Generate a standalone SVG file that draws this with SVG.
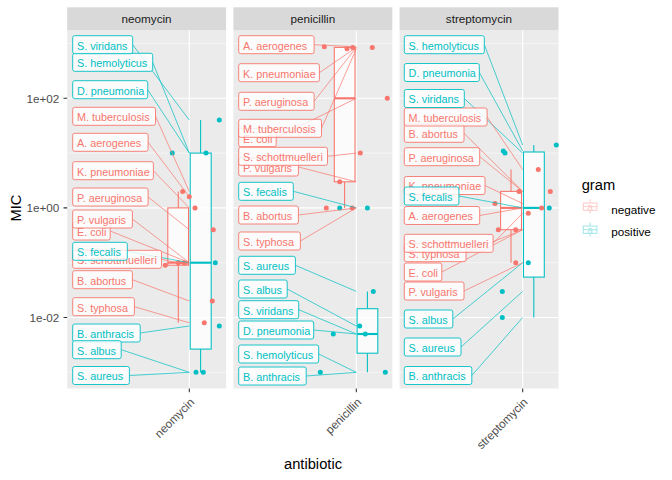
<svg xmlns="http://www.w3.org/2000/svg" width="672" height="480" viewBox="0 0 672 480">
<style>
text{font-family:"Liberation Sans",Arial,Helvetica,sans-serif}
.bg{fill:#EBEBEB}
.strip{fill:#D9D9D9}
.st{font-size:11.7px;fill:#1A1A1A;text-anchor:middle}
.gmaj{stroke:#FFFFFF;stroke-width:1.07;fill:none}
.gmin{stroke:#FFFFFF;stroke-width:0.53;fill:none}
.tick{stroke:#333333;stroke-width:1.07}
.at{font-size:11.7px;fill:#4D4D4D}
.ttl{font-size:14.7px;fill:#000000}
.lg{font-size:11.7px;fill:#000000}
.bxn{fill:#FFFFFF;fill-opacity:0.8;stroke:#F8766D;stroke-width:1.07}
.bxp{fill:#FFFFFF;fill-opacity:0.8;stroke:#00BFC4;stroke-width:1.07}
.wn{stroke:#F8766D;stroke-width:1.07}
.wp{stroke:#00BFC4;stroke-width:1.07}
.mn{stroke:#F8766D;stroke-width:2.13}
.mp{stroke:#00BFC4;stroke-width:2.13}
.pn{fill:#F8766D}
.pp{fill:#00BFC4}
circle{r:2.5px}
.sn{stroke:#F8766D;stroke-width:0.71;fill:none}
.sp{stroke:#00BFC4;stroke-width:0.71;fill:none}
.ln rect{fill:#FFFFFF;fill-opacity:0.8;stroke:#F8766D;stroke-width:0.9}
.ln text{fill:#F8766D;font-size:10.8px}
.lp rect{fill:#FFFFFF;fill-opacity:0.8;stroke:#00BFC4;stroke-width:0.9}
.lp text{fill:#00BFC4;font-size:10.8px}
</style>

<!-- panel backgrounds and grids -->
<g id="panels">
  <rect class="bg" x="67.2" y="30.3" width="158.9" height="358.2"/>
  <rect class="bg" x="233.4" y="30.3" width="158.9" height="358.2"/>
  <rect class="bg" x="399.6" y="30.3" width="158.9" height="358.2"/>
  <g class="gmin">
    <path d="M67.2 43.5H226.1M67.2 153.1H226.1M67.2 262.7H226.1M67.2 372.3H226.1"/>
    <path d="M233.4 43.5H392.3M233.4 153.1H392.3M233.4 262.7H392.3M233.4 372.3H392.3"/>
    <path d="M399.6 43.5H558.5M399.6 153.1H558.5M399.6 262.7H558.5M399.6 372.3H558.5"/>
  </g>
  <g class="gmaj">
    <path d="M67.2 98.3H226.1M67.2 207.9H226.1M67.2 317.5H226.1M189.3 30.3V388.5"/>
    <path d="M233.4 98.3H392.3M233.4 207.9H392.3M233.4 317.5H392.3M356.3 30.3V388.5"/>
    <path d="M399.6 98.3H558.5M399.6 207.9H558.5M399.6 317.5H558.5M522.7 30.3V388.5"/>
  </g>
  <rect class="strip" x="67.2" y="7.3" width="158.9" height="23"/>
  <rect class="strip" x="233.4" y="7.3" width="158.9" height="23"/>
  <rect class="strip" x="399.6" y="7.3" width="158.9" height="23"/>
  <text class="st" x="146.6" y="22.8">neomycin</text>
  <text class="st" x="312.8" y="22.8">penicillin</text>
  <text class="st" x="479" y="22.8">streptomycin</text>
</g>

<!-- boxplots -->
<g id="boxplots">
  <!-- neomycin -->
  <line class="wn" x1="178.3" y1="191.4" x2="178.3" y2="207.9"/>
  <line class="wn" x1="178.3" y1="265.2" x2="178.3" y2="322.8"/>
  <rect class="bxn" x="167.8" y="207.9" width="20.7" height="57.3"/>
  <line class="mn" x1="167.8" y1="262.7" x2="188.5" y2="262.7"/>
  <line class="wp" x1="200.6" y1="120.1" x2="200.6" y2="153.1"/>
  <line class="wp" x1="200.6" y1="349.1" x2="200.6" y2="372.3"/>
  <rect class="bxp" x="190.2" y="153.1" width="21" height="196"/>
  <line class="mp" x1="190.2" y1="262.7" x2="211.2" y2="262.7"/>
  <!-- penicillin -->
  <line class="wn" x1="344.6" y1="46.8" x2="344.6" y2="47.4"/>
  <line class="wn" x1="344.6" y1="181.8" x2="344.6" y2="207.9"/>
  <rect class="bxn" x="334.3" y="47.4" width="20.7" height="134.4"/>
  <line class="mn" x1="334.3" y1="98.3" x2="355" y2="98.3"/>
  <line class="wp" x1="367.4" y1="291.4" x2="367.4" y2="308.7"/>
  <line class="wp" x1="367.4" y1="353.2" x2="367.4" y2="372.3"/>
  <rect class="bxp" x="357.1" y="308.7" width="20.7" height="44.5"/>
  <line class="mp" x1="357.1" y1="334" x2="377.8" y2="334"/>
  <circle class="pp" cx="367.4" cy="207.9" r="2.5"/>
  <!-- streptomycin -->
  <line class="wn" x1="511" y1="169.6" x2="511" y2="191.4"/>
  <line class="wn" x1="511" y1="229.7" x2="511" y2="262.7"/>
  <rect class="bxn" x="500.6" y="191.4" width="20.9" height="38.3"/>
  <line class="mn" x1="500.6" y1="207.9" x2="521.5" y2="207.9"/>
  <line class="wp" x1="533.8" y1="145.1" x2="533.8" y2="152"/>
  <line class="wp" x1="533.8" y1="277.1" x2="533.8" y2="317.5"/>
  <rect class="bxp" x="523.5" y="152" width="20.8" height="125.1"/>
  <line class="mp" x1="523.5" y1="207.9" x2="544.3" y2="207.9"/>
</g>

<!-- jittered points -->
<g id="points">
  <circle class="pp" cx="219.3" cy="120.1" r="2.5"/>
  <circle class="pp" cx="172.3" cy="153.1" r="2.5"/>
  <circle class="pp" cx="206" cy="153.1" r="2.5"/>
  <circle class="pn" cx="182.7" cy="191.4" r="2.5"/>
  <circle class="pn" cx="189.3" cy="196.7" r="2.5"/>
  <circle class="pn" cx="195" cy="207.9" r="2.5"/>
  <circle class="pn" cx="213.3" cy="229.7" r="2.5"/>
  <circle class="pp" cx="215.3" cy="262.7" r="2.5"/>
  <circle class="pn" cx="165.3" cy="265.2" r="2.5"/>
  <circle class="pn" cx="178.3" cy="262.7" r="2.5"/>
  <circle class="pn" cx="184" cy="262.7" r="2.5"/>
  <circle class="pn" cx="212.3" cy="301" r="2.5"/>
  <circle class="pn" cx="204.3" cy="322.8" r="2.5"/>
  <circle class="pp" cx="219.3" cy="326" r="2.5"/>
  <circle class="pp" cx="196" cy="372.3" r="2.5"/>
  <circle class="pp" cx="203.3" cy="372.3" r="2.5"/>

  <circle class="pn" cx="324.3" cy="46.8" r="2.5"/>
  <circle class="pn" cx="347" cy="48.8" r="2.5"/>
  <circle class="pn" cx="352.7" cy="47.4" r="2.5"/>
  <circle class="pn" cx="372.3" cy="47.4" r="2.5"/>
  <circle class="pn" cx="387.3" cy="98.3" r="2.5"/>
  <circle class="pn" cx="360.3" cy="153.1" r="2.5"/>
  <circle class="pn" cx="339.7" cy="181.8" r="2.5"/>
  <circle class="pn" cx="326.3" cy="207.9" r="2.5"/>
  <circle class="pn" cx="352.3" cy="207.9" r="2.5"/>
  <circle class="pp" cx="339.7" cy="207.9" r="2.5"/>
  <circle class="pp" cx="373.3" cy="291.4" r="2.5"/>
  <circle class="pp" cx="359.7" cy="326" r="2.5"/>
  <circle class="pp" cx="333.3" cy="334" r="2.5"/>
  <circle class="pp" cx="365.3" cy="334" r="2.5"/>
  <circle class="pp" cx="320.3" cy="372.3" r="2.5"/>
  <circle class="pp" cx="385.3" cy="372.3" r="2.5"/>

  <circle class="pp" cx="556.3" cy="145.1" r="2.5"/>
  <circle class="pp" cx="503.3" cy="150.9" r="2.5"/>
  <circle class="pp" cx="505" cy="153.1" r="2.5"/>
  <circle class="pn" cx="538.3" cy="169.6" r="2.5"/>
  <circle class="pn" cx="550.3" cy="191.4" r="2.5"/>
  <circle class="pn" cx="519" cy="191.4" r="2.5"/>
  <circle class="pn" cx="495" cy="203.6" r="2.5"/>
  <circle class="pn" cx="541.7" cy="207.9" r="2.5"/>
  <circle class="pp" cx="549.3" cy="207.9" r="2.5"/>
  <circle class="pn" cx="528.3" cy="213.2" r="2.5"/>
  <circle class="pn" cx="498.3" cy="229.7" r="2.5"/>
  <circle class="pn" cx="515.7" cy="229.7" r="2.5"/>
  <circle class="pn" cx="515.7" cy="262.7" r="2.5"/>
  <circle class="pp" cx="528.3" cy="262.7" r="2.5"/>
  <circle class="pp" cx="502.3" cy="291.4" r="2.5"/>
  <circle class="pp" cx="502.3" cy="317.5" r="2.5"/>
</g>

<!-- label connectors -->
<g id="connectors">
  <g class="sp">
    <path d="M132.7 44.7L189.3 120.1M152.7 62.3L189.3 153.1M147.7 89.7L189.3 153.1M127.3 251.3L189.3 262.7M140.2 333L189.3 326M121.2 349.7L189.3 372.3M129.4 375.5L189.3 372.3"/>
    <path d="M293.3 191.3L356.3 207.9M295.4 265.3L356.3 291.4M287.2 289L356.3 326M298.7 309.7L356.3 334M313.7 330L356.3 334M318.7 354L356.3 372.3M306.2 376L356.3 372.3"/>
    <path d="M484.3 44.7L522.7 145.1M479.3 72.5L522.7 150.9M464.3 98.5L522.7 153.1M458.9 196L522.7 207.9M452.8 319L522.7 262.7M461 347L522.7 291.4M471.8 375.5L522.7 317.5"/>
  </g>
  <g class="sn">
    <path d="M155.5 116.3L189.3 191.4M148.1 142.3L189.3 196.7M153.4 170.7L189.3 207.9M148.1 197L189.3 229.7M132.4 219L189.3 262.7M110.2 231L189.3 262.7M161.5 259.3L189.3 265.2M132.4 279.7L189.3 301M134.4 306.7L189.3 322.8"/>
    <path d="M314.1 44.7L356.3 46.8M319.4 72.7L356.3 47.4M314.1 101.3L356.3 47.4M321.5 128.3L356.3 48.8M276.2 137.7L356.3 98.3M327.5 156.3L356.3 153.1M298.4 167L356.3 181.8M298.4 215L356.3 207.9M300.4 241L356.3 207.9"/>
    <path d="M487.1 117L522.7 169.6M464 133.3L522.7 191.4M479.7 156.7L522.7 191.4M485 185.5L522.7 203.6M479.7 215.5L522.7 207.9M493.1 243.3L522.7 213.2M466 252.7L522.7 229.7M441.8 272L522.7 229.7M464 291L522.7 262.7"/>
  </g>
</g>

<!-- labels: neomycin -->
<g id="neo-labels">
  <g id="neo-aerogenes" class="ln"><rect x="72.7" y="133.3" width="75.4" height="18" rx="2"/><text x="77" y="147.1">A. aerogenes</text></g>
  <g id="neo-abortus" class="ln"><rect x="72.7" y="270.7" width="59.7" height="18" rx="2"/><text x="77" y="284.5">B. abortus</text></g>
  <g id="neo-anthracis" class="lp"><rect x="72.7" y="324" width="67.5" height="18" rx="2"/><text x="77" y="337.8">B. anthracis</text></g>
  <g id="neo-dpneumonia" class="lp"><rect x="72.7" y="80.7" width="75" height="18" rx="2"/><text x="77" y="94.5">D. pneumonia</text></g>
  <g id="neo-coli" class="ln"><rect x="72.7" y="222" width="37.5" height="18" rx="2"/><text x="77" y="235.8">E. coli</text></g>
  <g id="neo-kpneumoniae" class="ln"><rect x="72.7" y="161.7" width="80.7" height="18" rx="2"/><text x="77" y="175.5">K. pneumoniae</text></g>
  <g id="neo-tuberculosis" class="ln"><rect x="72.7" y="107.3" width="82.8" height="18" rx="2"/><text x="77" y="121.1">M. tuberculosis</text></g>
  <g id="neo-vulgaris" class="ln"><rect x="72.7" y="210" width="59.7" height="18" rx="2"/><text x="77" y="223.8">P. vulgaris</text></g>
  <g id="neo-aeruginosa" class="ln"><rect x="72.7" y="188" width="75.4" height="18" rx="2"/><text x="77" y="201.8">P. aeruginosa</text></g>
  <g id="neo-typhosa" class="ln"><rect x="72.7" y="297.7" width="61.7" height="18" rx="2"/><text x="77" y="311.5">S. typhosa</text></g>
  <g id="neo-schottmuelleri" class="ln"><rect x="72.7" y="250.3" width="88.8" height="18" rx="2"/><text x="77" y="264.1">S. schottmuelleri</text></g>
  <g id="neo-albus" class="lp"><rect x="72.7" y="340.7" width="48.5" height="18" rx="2"/><text x="77" y="354.5">S. albus</text></g>
  <g id="neo-aureus" class="lp"><rect x="72.7" y="366.5" width="56.7" height="18" rx="2"/><text x="77" y="380.3">S. aureus</text></g>
  <g id="neo-fecalis" class="lp"><rect x="72.7" y="242.3" width="54.6" height="18" rx="2"/><text x="77" y="256.1">S. fecalis</text></g>
  <g id="neo-hemolyticus" class="lp"><rect x="72.7" y="53.3" width="80" height="18" rx="2"/><text x="77" y="67.1">S. hemolyticus</text></g>
  <g id="neo-viridans" class="lp"><rect x="72.7" y="35.7" width="60" height="18" rx="2"/><text x="77" y="49.5">S. viridans</text></g>
</g>

<!-- labels: penicillin -->
<g id="pen-labels">
  <g id="pen-aerogenes" class="ln"><rect x="238.7" y="35.7" width="75.4" height="18" rx="2"/><text x="243" y="49.5">A. aerogenes</text></g>
  <g id="pen-abortus" class="ln"><rect x="238.7" y="206" width="59.7" height="18" rx="2"/><text x="243" y="219.8">B. abortus</text></g>
  <g id="pen-anthracis" class="lp"><rect x="238.7" y="367" width="67.5" height="18" rx="2"/><text x="243" y="380.8">B. anthracis</text></g>
  <g id="pen-dpneumonia" class="lp"><rect x="238.7" y="321" width="75" height="18" rx="2"/><text x="243" y="334.8">D. pneumonia</text></g>
  <g id="pen-coli" class="ln"><rect x="238.7" y="128.7" width="37.5" height="18" rx="2"/><text x="243" y="142.5">E. coli</text></g>
  <g id="pen-kpneumoniae" class="ln"><rect x="238.7" y="63.7" width="80.7" height="18" rx="2"/><text x="243" y="77.5">K. pneumoniae</text></g>
  <g id="pen-tuberculosis" class="ln"><rect x="238.7" y="119.3" width="82.8" height="18" rx="2"/><text x="243" y="133.1">M. tuberculosis</text></g>
  <g id="pen-vulgaris" class="ln"><rect x="238.7" y="158" width="59.7" height="18" rx="2"/><text x="243" y="171.8">P. vulgaris</text></g>
  <g id="pen-aeruginosa" class="ln"><rect x="238.7" y="92.3" width="75.4" height="18" rx="2"/><text x="243" y="106.1">P. aeruginosa</text></g>
  <g id="pen-typhosa" class="ln"><rect x="238.7" y="232" width="61.7" height="18" rx="2"/><text x="243" y="245.8">S. typhosa</text></g>
  <g id="pen-schottmuelleri" class="ln"><rect x="238.7" y="147.3" width="88.8" height="18" rx="2"/><text x="243" y="161.1">S. schottmuelleri</text></g>
  <g id="pen-albus" class="lp"><rect x="238.7" y="280" width="48.5" height="18" rx="2"/><text x="243" y="293.8">S. albus</text></g>
  <g id="pen-aureus" class="lp"><rect x="238.7" y="256.3" width="56.7" height="18" rx="2"/><text x="243" y="270.1">S. aureus</text></g>
  <g id="pen-fecalis" class="lp"><rect x="238.7" y="182.3" width="54.6" height="18" rx="2"/><text x="243" y="196.1">S. fecalis</text></g>
  <g id="pen-hemolyticus" class="lp"><rect x="238.7" y="345" width="80" height="18" rx="2"/><text x="243" y="358.8">S. hemolyticus</text></g>
  <g id="pen-viridans" class="lp"><rect x="238.7" y="300.7" width="60" height="18" rx="2"/><text x="243" y="314.5">S. viridans</text></g>
</g>

<!-- labels: streptomycin -->
<g id="str-labels">
  <g id="str-aerogenes" class="ln"><rect x="404.3" y="206.5" width="75.4" height="18" rx="2"/><text x="408.6" y="220.3">A. aerogenes</text></g>
  <g id="str-abortus" class="ln"><rect x="404.3" y="124.3" width="59.7" height="18" rx="2"/><text x="408.6" y="138.1">B. abortus</text></g>
  <g id="str-anthracis" class="lp"><rect x="404.3" y="366.5" width="67.5" height="18" rx="2"/><text x="408.6" y="380.3">B. anthracis</text></g>
  <g id="str-dpneumonia" class="lp"><rect x="404.3" y="63.5" width="75" height="18" rx="2"/><text x="408.6" y="77.3">D. pneumonia</text></g>
  <g id="str-coli" class="ln"><rect x="404.3" y="263" width="37.5" height="18" rx="2"/><text x="408.6" y="276.8">E. coli</text></g>
  <g id="str-kpneumoniae" class="ln"><rect x="404.3" y="176.5" width="80.7" height="18" rx="2"/><text x="408.6" y="190.3">K. pneumoniae</text></g>
  <g id="str-tuberculosis" class="ln"><rect x="404.3" y="108" width="82.8" height="18" rx="2"/><text x="408.6" y="121.8">M. tuberculosis</text></g>
  <g id="str-vulgaris" class="ln"><rect x="404.3" y="282" width="59.7" height="18" rx="2"/><text x="408.6" y="295.8">P. vulgaris</text></g>
  <g id="str-aeruginosa" class="ln"><rect x="404.3" y="147.7" width="75.4" height="18" rx="2"/><text x="408.6" y="161.5">P. aeruginosa</text></g>
  <g id="str-typhosa" class="ln"><rect x="404.3" y="243.7" width="61.7" height="18" rx="2"/><text x="408.6" y="257.5">S. typhosa</text></g>
  <g id="str-schottmuelleri" class="ln"><rect x="404.3" y="234.3" width="88.8" height="18" rx="2"/><text x="408.6" y="248.1">S. schottmuelleri</text></g>
  <g id="str-albus" class="lp"><rect x="404.3" y="310" width="48.5" height="18" rx="2"/><text x="408.6" y="323.8">S. albus</text></g>
  <g id="str-aureus" class="lp"><rect x="404.3" y="338" width="56.7" height="18" rx="2"/><text x="408.6" y="351.8">S. aureus</text></g>
  <g id="str-fecalis" class="lp"><rect x="404.3" y="187" width="54.6" height="18" rx="2"/><text x="408.6" y="200.8">S. fecalis</text></g>
  <g id="str-hemolyticus" class="lp"><rect x="404.3" y="35.7" width="80" height="18" rx="2"/><text x="408.6" y="49.5">S. hemolyticus</text></g>
  <g id="str-viridans" class="lp"><rect x="404.3" y="89.5" width="60" height="18" rx="2"/><text x="408.6" y="103.3">S. viridans</text></g>
</g>

<!-- axes -->
<g id="axes">
  <path class="tick" d="M63.5 98.3H67.2M63.5 207.9H67.2M63.5 317.5H67.2M189.3 388.5V392.2M356.3 388.5V392.2M522.7 388.5V392.2"/>
  <text class="at" x="59.3" y="102.5" text-anchor="end">1e+02</text>
  <text class="at" x="59.3" y="212.1" text-anchor="end">1e+00</text>
  <text class="at" x="59.3" y="321.7" text-anchor="end">1e-02</text>
  <text class="at" text-anchor="end" transform="translate(195,403) rotate(-45)">neomycin</text>
  <text class="at" text-anchor="end" transform="translate(362,403) rotate(-45)">penicillin</text>
  <text class="at" text-anchor="end" transform="translate(528.4,403) rotate(-45)">streptomycin</text>
  <text class="ttl" x="313" y="469" text-anchor="middle">antibiotic</text>
  <text class="ttl" text-anchor="middle" transform="translate(20.5,208) rotate(-90)">MIC</text>
</g>

<!-- legend -->
<g id="legend">
  <text class="ttl" x="581.7" y="190">gram</text>
  <g id="key-negative" opacity="0.35">
    <line class="wn" x1="590.1" y1="199.5" x2="590.1" y2="213.5"/>
    <rect class="bxn" x="583.3" y="203" width="13.6" height="7.3"/>
    <line class="wn" x1="583.3" y1="206.6" x2="596.9" y2="206.6"/>
    <text x="590.1" y="210.6" text-anchor="middle" style="font-size:10.8px;fill:#F8766D">a</text>
  </g>
  <g id="key-positive" opacity="0.35">
    <line class="wp" x1="590.1" y1="222.6" x2="590.1" y2="236.6"/>
    <rect class="bxp" x="583.3" y="226.1" width="13.6" height="7.3"/>
    <line class="wp" x1="583.3" y1="229.7" x2="596.9" y2="229.7"/>
    <text x="590.1" y="233.7" text-anchor="middle" style="font-size:10.8px;fill:#00BFC4">a</text>
  </g>
  <text class="lg" x="611.2" y="213.5">negative</text>
  <text class="lg" x="611.2" y="236.2">positive</text>
</g>
</svg>
